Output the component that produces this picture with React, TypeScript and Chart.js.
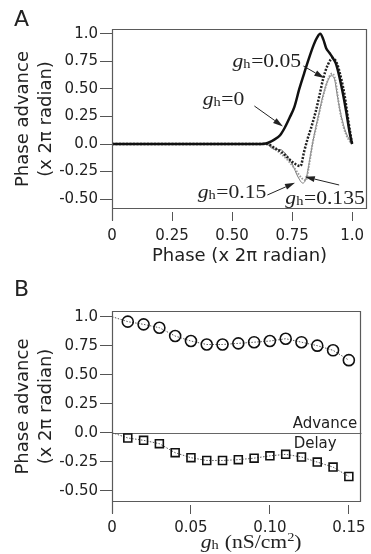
import React, { useEffect, useRef } from 'react';
import { Chart, registerables } from 'chart.js';

Chart.register(...registerables);

// ---------- Panel A data ----------
const phaseGh0 = [0, 0.3, 0.6, 0.64, 0.676, 0.70, 0.72, 0.74, 0.76, 0.78, 0.80, 0.816, 0.84, 0.855, 0.867, 0.88, 0.892, 0.906, 0.92, 0.934, 0.954, 0.975, 0.99, 1.0];
const advanceGh0 = [0, 0, 0, 0.005, 0.04, 0.08, 0.15, 0.24, 0.34, 0.5, 0.64, 0.75, 0.9, 0.97, 1.0, 0.95, 0.87, 0.826, 0.78, 0.72, 0.54, 0.3, 0.1, 0];

const phaseGh005 = [0, 0.3, 0.6, 0.645, 0.68, 0.704, 0.73, 0.755, 0.785, 0.80, 0.815, 0.829, 0.849, 0.865, 0.878, 0.899, 0.92, 0.935, 0.947, 0.968, 0.985, 1.0];
const advanceGh005 = [0, 0, 0, 0, -0.04, -0.07, -0.12, -0.17, -0.2, -0.07, 0.05, 0.145, 0.3, 0.45, 0.58, 0.72, 0.78, 0.74, 0.66, 0.45, 0.2, 0];

const phaseGh0135 = [0, 0.3, 0.64, 0.68, 0.72, 0.76, 0.79, 0.807, 0.82, 0.835, 0.85, 0.87, 0.89, 0.905, 0.917, 0.93, 0.947, 0.965, 0.985, 1.0];
const advanceGh0135 = [0, 0, 0, -0.05, -0.12, -0.22, -0.31, -0.33, -0.2, 0.0, 0.15, 0.35, 0.52, 0.61, 0.64, 0.58, 0.33, 0.15, 0.04, 0];

const phaseGh015 = [0, 0.3, 0.645, 0.66, 0.68, 0.70, 0.72, 0.75, 0.775, 0.795, 0.81, 0.825, 0.84, 0.86, 0.88, 0.90, 0.912, 0.925, 0.94, 0.955, 0.975, 1.0];
const advanceGh015 = [0, 0, 0, -0.03, -0.05, -0.05, -0.08, -0.18, -0.3, -0.355, -0.3, -0.12, 0.06, 0.26, 0.45, 0.58, 0.62, 0.6, 0.42, 0.25, 0.1, 0];

const curveLabelValues = ['0', '0.05', '0.15', '0.135'];

const phaseTicks = [0, 0.25, 0.5, 0.75, 1.0];
const phaseTickLabels = ['0', '0.25', '0.50', '0.75', '1.0'];
const advanceTicks = [-0.5, -0.25, 0, 0.25, 0.5, 0.75, 1.0];
const advanceTickLabels = ['-0.50', '-0.25', '0.0', '0.25', '0.50', '0.75', '1.0'];

// ---------- Panel B data ----------
const ghValues = [0, 0.01, 0.02, 0.03, 0.04, 0.05, 0.06, 0.07, 0.08, 0.09, 0.10, 0.11, 0.12, 0.13, 0.14, 0.15];
const maxAdvance = [1.0, 0.957, 0.934, 0.905, 0.833, 0.79, 0.76, 0.76, 0.77, 0.78, 0.79, 0.81, 0.78, 0.75, 0.71, 0.625];
const maxDelay = [0, -0.046, -0.066, -0.095, -0.173, -0.216, -0.24, -0.24, -0.233, -0.22, -0.2, -0.187, -0.21, -0.254, -0.297, -0.378];

const ghTicks = [0, 0.05, 0.1, 0.15];
const ghTickLabels = ['0', '0.05', '0.10', '0.15'];

// ---------- layout (positions in data units) ----------
const labelLayoutA = [
  { lx: 0.378, ly: 0.354, ax0: 0.593, ay0: 0.345, ax1: 0.712, ay1: 0.16 },
  { lx: 0.502, ly: 0.699, ax0: 0.797, ay0: 0.708, ax1: 0.884, ay1: 0.599 },
  { lx: 0.357, ly: -0.49, ax0: 0.647, ay0: -0.463, ax1: 0.762, ay1: -0.352 },
  { lx: 0.722, ly: -0.544, ax0: 0.946, ay0: -0.372, ax1: 0.803, ay1: -0.297 },
];

const W = 371;
const HA = 277;
const HB = 277;
const SANS = '"DejaVu Sans"';
const SERIF = '"Liberation Serif"';
const INK = '#222';
const FRAME = '#5a5a5a';

Chart.defaults.font.family = SANS;
Chart.defaults.color = INK;

const pts = (xs: number[], ys: number[]) => xs.map((x, i) => ({ x, y: ys[i] }));

function drawGh(ctx: CanvasRenderingContext2D, x: number, y: number, suffix: string, sup?: string, tail?: string) {
  ctx.save();
  ctx.translate(x, y);
  ctx.scale(1.2, 1);
  ctx.fillStyle = INK;
  ctx.textBaseline = 'alphabetic';
  ctx.textAlign = 'left';
  let cx = 0;
  ctx.font = `italic 18px ${SERIF}`;
  ctx.fillText('g', cx, 0);
  cx += ctx.measureText('g').width;
  ctx.font = `12px ${SERIF}`;
  ctx.fillText('h', cx, 1);
  cx += ctx.measureText('h').width + 0.5;
  ctx.font = `18px ${SERIF}`;
  ctx.fillText(suffix, cx, 0);
  cx += ctx.measureText(suffix).width;
  if (sup) {
    ctx.font = `12px ${SERIF}`;
    ctx.fillText(sup, cx, -7);
    cx += ctx.measureText(sup).width;
  }
  if (tail) {
    ctx.font = `18px ${SERIF}`;
    ctx.fillText(tail, cx, 0);
  }
  ctx.restore();
}

function arrow(ctx: CanvasRenderingContext2D, x0: number, y0: number, x1: number, y1: number) {
  const ang = Math.atan2(y1 - y0, x1 - x0);
  const hl = 10;
  const hw = 3;
  const bx = x1 - hl * Math.cos(ang);
  const by = y1 - hl * Math.sin(ang);
  ctx.save();
  ctx.strokeStyle = INK;
  ctx.fillStyle = INK;
  ctx.lineWidth = 1;
  ctx.beginPath();
  ctx.moveTo(x0, y0);
  ctx.lineTo(bx, by);
  ctx.stroke();
  ctx.beginPath();
  ctx.moveTo(x1, y1);
  ctx.lineTo(bx + hw * Math.sin(ang), by - hw * Math.cos(ang));
  ctx.lineTo(bx - hw * Math.sin(ang), by + hw * Math.cos(ang));
  ctx.closePath();
  ctx.fill();
  ctx.restore();
}

function drawFrame(chart: any, letter: string, letterY: number) {
  const { ctx, chartArea: ca } = chart;
  ctx.save();
  ctx.strokeStyle = FRAME;
  ctx.lineWidth = 1.2;
  const l = Math.round(ca.left) + 0.5;
  const r = Math.round(ca.right) - 0.5;
  const t = Math.round(ca.top) + 0.5;
  const b = Math.round(ca.bottom) - 0.5;
  ctx.beginPath();
  ctx.moveTo(l, b + 12);
  ctx.lineTo(l, t);
  ctx.lineTo(r, t);
  ctx.lineTo(r, b);
  ctx.lineTo(l, b);
  ctx.stroke();
  ctx.fillStyle = INK;
  ctx.font = `22px ${SANS}`;
  ctx.textAlign = 'left';
  ctx.textBaseline = 'alphabetic';
  ctx.fillText(letter, 14, letterY);
  ctx.restore();
}

const yTitle = {
  display: true,
  text: ['Phase advance', '(x 2π radian)'],
  font: { size: 18, family: SANS, lineHeight: 1.28 },
  color: INK,
  padding: { top: 12, bottom: 0 },
};

function yScale(min: number, max: number) {
  return {
    type: 'linear' as const,
    min,
    max,
    afterFit: (s: any) => { s.width = 112; },
    afterBuildTicks: (s: any) => { s.ticks = advanceTicks.map((v) => ({ value: v })); },
    border: { display: false },
    grid: { drawOnChartArea: false, drawTicks: true, tickLength: 12, tickColor: '#555', tickWidth: 1 },
    ticks: {
      padding: 2,
      font: { size: 15, family: SANS },
      color: INK,
      callback: (_v: any, i: number) => advanceTickLabels[i],
    },
    title: yTitle,
  };
}

function xGrid() {
  return { drawOnChartArea: false, drawTicks: true, tickLength: 12, tickColor: '#555', tickWidth: 1, tickBorderDash: [0, 3, 9, 3] };
}

const panelAPlugin = {
  id: 'panelA',
  afterDraw(chart: any) {
    const { ctx, scales } = chart;
    const x = scales.x;
    const y = scales.y;
    drawFrame(chart, 'A', 26);
    labelLayoutA.forEach((p, i) => {
      drawGh(ctx, x.getPixelForValue(p.lx), y.getPixelForValue(p.ly), '=' + curveLabelValues[i]);
      arrow(ctx, x.getPixelForValue(p.ax0), y.getPixelForValue(p.ay0), x.getPixelForValue(p.ax1), y.getPixelForValue(p.ay1));
    });
  },
};

const panelBPlugin = {
  id: 'panelB',
  beforeDatasetsDraw(chart: any) {
    const { ctx, chartArea: ca, scales } = chart;
    const y0 = Math.round(scales.y.getPixelForValue(0)) + 0.5;
    ctx.save();
    ctx.strokeStyle = '#666';
    ctx.lineWidth = 1;
    ctx.beginPath();
    ctx.moveTo(ca.left, y0);
    ctx.lineTo(ca.right, y0);
    ctx.stroke();
    ctx.restore();
  },
  afterDraw(chart: any) {
    const { ctx, chartArea: ca, scales } = chart;
    const x = scales.x;
    const y = scales.y;
    drawFrame(chart, 'B', 19);
    ctx.save();
    ctx.fillStyle = INK;
    ctx.font = `15px ${SANS}`;
    ctx.textAlign = 'left';
    ctx.textBaseline = 'alphabetic';
    const tx = x.getPixelForValue(0.1144);
    ctx.fillText('Advance', tx, y.getPixelForValue(0.039));
    ctx.fillText('Delay', tx + 1, y.getPixelForValue(-0.134));
    ctx.restore();
    drawGh(ctx, (ca.left + ca.right) / 2 - 36, ca.bottom + 46, ' (nS/cm', '2', ')');
  },
};

export default function App() {
  const refA = useRef<HTMLCanvasElement | null>(null);
  const refB = useRef<HTMLCanvasElement | null>(null);

  useEffect(() => {
    const chartA = new Chart(refA.current as HTMLCanvasElement, {
      type: 'line',
      data: {
        datasets: [
          { label: 'gh=0', data: pts(phaseGh0, advanceGh0), borderColor: '#111', borderWidth: 2.5, pointRadius: 0, cubicInterpolationMode: 'monotone' },
          { label: 'gh=0.05', data: pts(phaseGh005, advanceGh005), borderColor: '#222', borderWidth: 2.5, borderDash: [2, 1.5], pointRadius: 0, cubicInterpolationMode: 'monotone' },
          { label: 'gh=0.135', data: pts(phaseGh0135, advanceGh0135), borderColor: '#999', borderWidth: 2, borderDash: [1.5, 1.5], pointRadius: 0, cubicInterpolationMode: 'monotone' },
          { label: 'gh=0.15', data: pts(phaseGh015, advanceGh015), borderColor: '#777', borderWidth: 1, pointRadius: 0, cubicInterpolationMode: 'monotone' },
        ],
      },
      options: {
        animation: false,
        responsive: false,
        layout: { padding: { top: 29, right: 4, left: 0, bottom: 0 } },
        plugins: { legend: { display: false }, tooltip: { enabled: false } },
        scales: {
          x: {
            type: 'linear',
            min: 0,
            max: 1.062,
            afterFit: (s: any) => { s.height = HA - 209; },
            afterBuildTicks: (s: any) => { s.ticks = phaseTicks.map((v) => ({ value: v })); },
            border: { display: false },
            grid: xGrid(),
            ticks: {
              padding: 6,
              maxRotation: 0,
              font: { size: 15, family: SANS },
              color: INK,
              callback: (_v: any, i: number) => phaseTickLabels[i],
            },
            title: {
              display: true,
              text: 'Phase (x 2π radian)',
              font: { size: 18, family: SANS },
              color: INK,
              padding: { top: 0, bottom: 10 },
            },
          },
          y: yScale(-0.59, 1.044),
        },
      },
      plugins: [panelAPlugin],
    } as any);

    const chartB = new Chart(refB.current as HTMLCanvasElement, {
      type: 'line',
      data: {
        datasets: [
          {
            label: 'Advance',
            data: pts(ghValues, maxAdvance),
            borderColor: '#555',
            borderWidth: 1,
            borderDash: [1.5, 1.5],
            pointStyle: 'circle',
            pointRadius: ghValues.map((_, i) => (i === 0 ? 0 : 5.5)),
            pointBorderColor: '#111',
            pointBackgroundColor: 'rgba(0,0,0,0)',
            pointBorderWidth: 1.6,
          },
          {
            label: 'Delay',
            data: pts(ghValues, maxDelay),
            borderColor: '#555',
            borderWidth: 1,
            borderDash: [1.5, 1.5],
            pointStyle: 'rect',
            pointRadius: ghValues.map((_, i) => (i === 0 ? 0 : 5.6)),
            pointBorderColor: '#111',
            pointBackgroundColor: 'rgba(0,0,0,0)',
            pointBorderWidth: 1.6,
          },
        ],
      },
      options: {
        animation: false,
        responsive: false,
        layout: { padding: { top: 34, right: 9, left: 0, bottom: 0 } },
        plugins: { legend: { display: false }, tooltip: { enabled: false } },
        scales: {
          x: {
            type: 'linear',
            min: 0,
            max: 0.158,
            afterFit: (s: any) => { s.height = 52; },
            afterBuildTicks: (s: any) => { s.ticks = ghTicks.map((v) => ({ value: v })); },
            border: { display: false },
            grid: xGrid(),
            ticks: {
              padding: 5,
              maxRotation: 0,
              font: { size: 15, family: SANS },
              color: INK,
              callback: (_v: any, i: number) => ghTickLabels[i],
            },
          },
          y: yScale(-0.598, 1.049),
        },
      },
      plugins: [panelBPlugin],
    } as any);

    return () => {
      chartA.destroy();
      chartB.destroy();
    };
  }, []);

  return (
    <div style={{ position: 'absolute', left: 0, top: 0, width: W, height: HA + HB, background: '#fff' }}>
      <canvas ref={refA} width={W} height={HA} style={{ display: 'block', width: W, height: HA }} />
      <canvas ref={refB} width={W} height={HB} style={{ display: 'block', width: W, height: HB }} />
    </div>
  );
}
